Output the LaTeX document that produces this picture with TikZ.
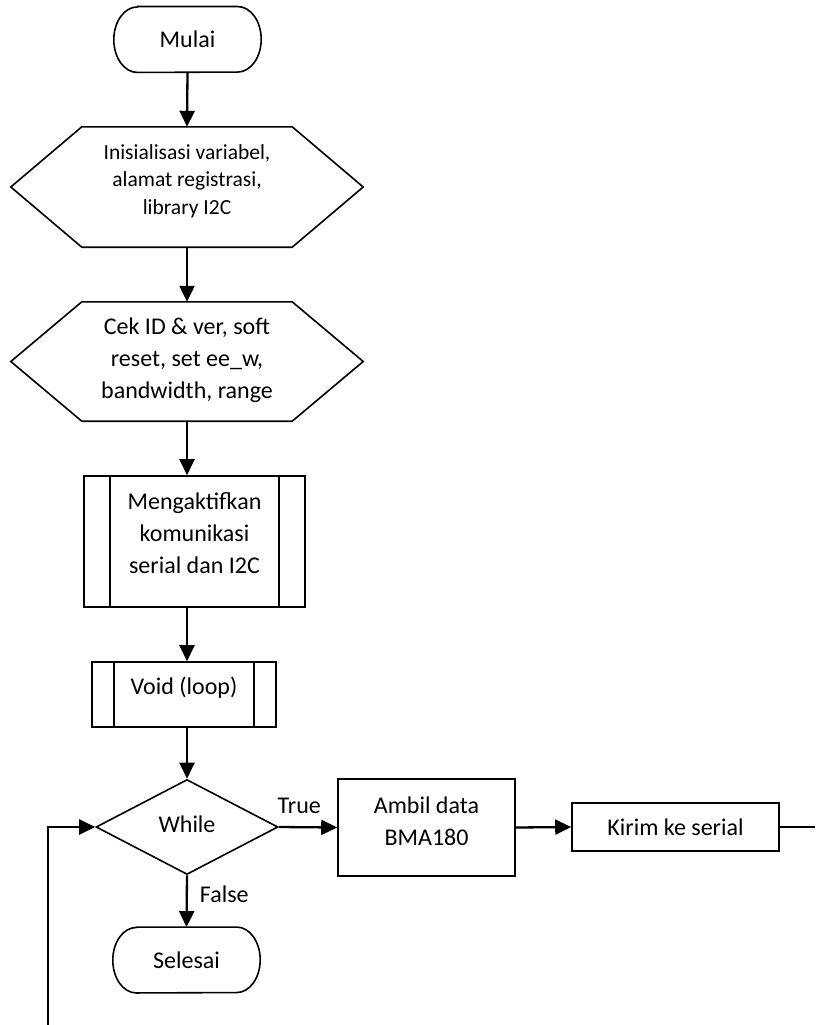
\documentclass[tikz,border=0pt]{standalone}
\usepackage{fontspec}
\setmainfont{Carlito}
\usetikzlibrary{shapes.geometric}
\usetikzlibrary{arrows.meta}
\usetikzlibrary{positioning}

\tikzset{
  flowline/.style={line width=2.3pt, -{Triangle[length=16pt,width=15pt]}},
  plainline/.style={line width=2.3pt},
  shapeline/.style={line width=1.6pt},
  boxtext/.style={font=\fontsize{24}{32}\selectfont, align=center, inner sep=0pt},
  procbox/.style={boxtext, draw, shapeline, rectangle},
  decision/.style={boxtext, draw, shapeline, diamond, aspect=1.9},
}

\begin{document}
\begin{tikzpicture}[x=1pt,y=-1pt]
\useasboundingbox (0,0) rectangle (815,1025);

% terminals and preparation blocks (outlines drawn below)
\node[boxtext, minimum width=147pt, minimum height=65.5pt] (mulai) at (187.5,39.5) {Mulai};
\node[boxtext, font=\fontsize{21.5}{27.5}\selectfont, text height=64pt, text depth=10pt,
      minimum width=352pt, minimum height=120pt] (init) at (187,187) {Inisialisasi variabel,\\alamat registrasi,\\library I2C};
\node[boxtext, text height=83pt, text depth=10pt, minimum width=352pt, minimum height=119pt] (cek) at (187,361.5) {Cek ID \& ver, soft\\reset, set ee\_w,\\bandwidth, range};

% predefined processes
\node[procbox, text height=73pt, text depth=10pt, minimum width=221pt, minimum height=131pt] (aktif) at (194.5,541.5) {Mengaktifkan\\komunikasi\\serial dan I2C};
\node[procbox, text height=10pt, text depth=10pt, minimum width=184pt, minimum height=65pt] (loop) at (184,694.5) {Void (loop)};

% decision and the true branch
\node[decision, text height=10pt, text depth=0pt, minimum width=182pt, minimum height=95pt] (while) at (187,827) {While};
\node[procbox, text height=46pt, text depth=10pt, minimum width=177pt, minimum height=97pt] (ambil) at (426.5,827.5) {Ambil data\\BMA180};
\node[procbox, minimum width=207pt, minimum height=48pt] (kirim) at (675.5,827) {Kirim ke serial};

% end
\node[boxtext, minimum width=147pt, minimum height=65.5pt] (selesai) at (186.5,960) {Selesai};

\coordinate (rightend) at (815,827);
\coordinate (loopstart) at (48,1025);

% terminal outlines
\foreach \t in {mulai,selesai}
  \draw[shapeline] ([xshift=23.5pt]\t.north west) -- ([xshift=-23.5pt]\t.north east)
    arc[start angle=90, end angle=-90, x radius=23.5pt, y radius=32.75pt]
    -- ([xshift=23.5pt]\t.south west)
    arc[start angle=270, end angle=90, x radius=23.5pt, y radius=32.75pt] -- cycle;

% hexagon outlines
\foreach \h in {init,cek}
  \draw[shapeline] (\h.west) -- ([xshift=71pt]\h.north west) -- ([xshift=-71pt]\h.north east)
    -- (\h.east) -- ([xshift=-71pt]\h.south east) -- ([xshift=71pt]\h.south west) -- cycle;

% inner bars of the predefined processes
\draw[shapeline] ([xshift=27pt]aktif.north west) -- ([xshift=27pt]aktif.south west);
\draw[shapeline] ([xshift=-27pt]aktif.north east) -- ([xshift=-27pt]aktif.south east);
\draw[shapeline] ([xshift=23pt]loop.north west) -- ([xshift=23pt]loop.south west);
\draw[shapeline] ([xshift=-23pt]loop.north east) -- ([xshift=-23pt]loop.south east);

% main flow
\draw[flowline] (mulai.south) -- (init.north);
\draw[flowline] (init.south) -- (cek.north);
\draw[flowline] (cek.south) -- (cek.south |- aktif.north);
\draw[flowline] (cek.south |- aktif.south) -- (cek.south |- loop.north);
\draw[flowline] (cek.south |- loop.south) -- (while.north);

% branches
\draw[flowline] (while.east) -- node[boxtext, pos=0.35, above=12pt]{True} (ambil.west);
\draw[flowline] (ambil.east) -- (kirim.west);
\draw[plainline] (kirim.east) -- (rightend);
\draw[flowline] (while.south) -- node[boxtext, pos=0.37, right=12pt]{False} (selesai.north);
\draw[flowline] (loopstart) |- (while.west);

\end{tikzpicture}
\end{document}
